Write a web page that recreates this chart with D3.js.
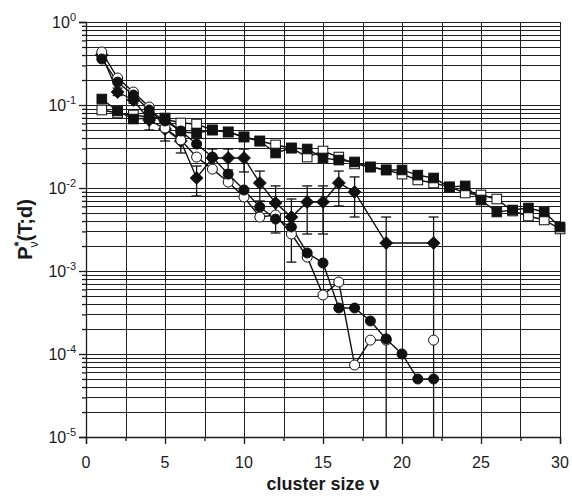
<!DOCTYPE html>
<html>
<head>
<meta charset="utf-8">
<script src="https://cdn.jsdelivr.net/npm/d3@7"></script>
<style>
  body { margin: 0; background: #fff; }
  text { font-family: "Liberation Sans", Arial, sans-serif; fill: #1a1a1a; }
</style>
</head>
<body>
<script>
// cluster sizes on the x axis
var sizes = [1,2,3,4,5,6,7,8,9,10,11,12,13,14,15,16,17,18,19,20,21,22,23,24,25,26,27,28,29,30];

// filled squares, v = 1..30
var filledSquares = [0.118,0.0847,0.0678,0.0697,0.0697,0.0473,0.0460,0.0500,0.0473,0.0412,
                     0.0368,0.0264,0.0303,0.0295,0.0230,0.0217,0.0206,0.0179,0.0165,0.0165,
                     0.0143,0.0132,0.0103,0.0106,0.00717,0.00514,0.00543,0.00574,0.00514,0.00339];
// open squares, v = 1..30
var openSquares = [0.0871,0.0801,0.0758,0.0717,0.0678,0.0607,0.0590,0.0500,0.0473,0.0412,
                   0.0368,0.0330,0.0303,0.0236,0.0279,0.0236,0.0195,0.0179,0.0165,0.0147,
                   0.0125,0.0115,0.0103,0.00871,0.00824,0.00737,0.00528,0.00460,0.00412,0.00321];
// filled circles, v = 1..22
var filledCircles = [0.358,0.189,0.132,0.0871,0.0642,0.0486,0.0339,0.0236,0.0147,0.00946,
                     0.00590,0.00423,0.00339,0.00165,0.00125,0.000358,0.000358,0.000250,0.000152,0.000100,
                     0.0000500,0.0000500];
// open circles, v = 1..22 (null = no point)
var openCircles = [0.435,0.2115,0.1434,0.0946,0.0528,0.0379,0.0236,0.0169,0.0118,0.00779,
                   0.00447,0.00473,0.00279,0.00147,0.000514,0.000737,0.0000737,0.000147,0.000147,null,
                   null,0.000147];
// filled diamonds with error bars
var diamondSizes = [1,2,3,4,5,6,7,8,9,10,11,12,13,14,15,16,17,19,22];
var diamonds   = [0.400,0.1434,0.115,0.0660,0.0514,0.0368,0.0132,0.0230,0.0230,0.0230,
                  0.0115,0.00660,0.00447,0.00678,0.00678,0.0115,0.00895,0.00217,0.00217];
var diamondHi  = [0.42,0.16,0.125,0.0801,0.0678,0.0486,0.0184,0.0295,0.0295,0.0295,
                  0.0160,0.0106,0.00737,0.0106,0.0106,0.0160,0.0136,0.00447,0.00447];
var diamondLo  = [0.38,0.13,0.105,0.0500,0.0368,0.0264,0.00801,0.0165,0.0165,0.0156,
                  0.00697,0.00287,0.00128,0.00279,0.00279,0.00607,0.00447,0.00001,0.00001];

var xTicks = [0,5,10,15,20,25,30];
var xMinorTicks = [2.5,7.5,12.5,17.5,22.5,27.5];
var yExponents = [0,-1,-2,-3,-4,-5];

var width = 572, height = 496;
var margin = {top: 22, right: 12, bottom: 59, left: 86};

var svg = d3.select("body").append("svg")
    .attr("width", width)
    .attr("height", height);

var x = d3.scaleLinear().domain([0, 30]).range([margin.left, width - margin.right]);
var y = d3.scaleLog().domain([1e-5, 1]).range([height - margin.bottom, margin.top]);

// minor log values 2..9 x 10^k
var yMinor = [];
yExponents.slice(1).forEach(function(k){
  for (var m = 2; m <= 9; m++) yMinor.push(m * Math.pow(10, k));
});
var yMajor = yExponents.map(function(k){ return Math.pow(10, k); });

// grid
var grid = svg.append("g").attr("class", "grid")
    .attr("stroke", "#1e1e1e").attr("stroke-width", 1);
grid.selectAll(".gx")
  .data(xTicks.concat(xMinorTicks))
  .enter().append("line")
    .attr("x1", function(d){ return Math.round(x(d)) + 0.5; })
    .attr("x2", function(d){ return Math.round(x(d)) + 0.5; })
    .attr("y1", y(1)).attr("y2", y(1e-5));
grid.selectAll(".gy")
  .data(yMajor.concat(yMinor))
  .enter().append("line")
    .attr("y1", function(d){ return Math.round(y(d)) + 0.5; })
    .attr("y2", function(d){ return Math.round(y(d)) + 0.5; })
    .attr("x1", x(0)).attr("x2", x(30));

// axes
svg.append("g")
    .attr("transform", "translate(" + x(0) + ",0)")
    .call(d3.axisLeft(y).tickValues(yMajor).tickSize(7).tickFormat(""));
svg.append("g")
    .attr("transform", "translate(" + x(0) + ",0)")
    .call(d3.axisLeft(y).tickValues(yMinor).tickSize(4).tickFormat(""))
    .select(".domain").remove();
svg.append("g")
    .attr("transform", "translate(0," + y(1e-5) + ")")
    .call(d3.axisBottom(x).tickValues(xTicks).tickSize(7).tickFormat(""));
svg.append("g")
    .attr("transform", "translate(0," + y(1e-5) + ")")
    .call(d3.axisBottom(x).tickValues(xMinorTicks).tickSize(4).tickFormat(""))
    .select(".domain").remove();
svg.selectAll(".domain, .tick line").attr("stroke", "#1a1a1a").attr("stroke-width", 1.3);

// y tick labels 10^k
var ylab = svg.append("g").selectAll("text")
  .data(yExponents)
  .enter().append("text")
    .attr("x", 76)
    .attr("y", function(d){ return y(Math.pow(10, d)) + 6; })
    .attr("text-anchor", "end")
    .attr("font-size", 16);
ylab.append("tspan").text("10");
ylab.append("tspan").attr("dy", -7).attr("font-size", 11).text(function(d){ return d; });

// x tick labels
svg.append("g").selectAll("text")
  .data(xTicks)
  .enter().append("text")
    .attr("x", function(d){ return x(d); })
    .attr("y", y(1e-5) + 31)
    .attr("text-anchor", "middle")
    .attr("font-size", 16)
    .text(function(d){ return d; });

// axis titles
svg.append("text")
    .attr("x", (x(0) + x(30)) / 2)
    .attr("y", 490)
    .attr("text-anchor", "middle")
    .attr("font-size", 18)
    .attr("font-weight", "bold")
    .text("cluster size ν");

var yt = svg.append("text")
    .attr("transform", "translate(32," + ((y(1) + y(1e-5)) / 2) + ") rotate(-90)")
    .attr("text-anchor", "middle")
    .attr("font-size", 20)
    .attr("font-weight", "bold");
yt.append("tspan").text("P");
yt.append("tspan").attr("dy", -9).attr("font-size", 13).text("*");
yt.append("tspan").attr("dy", 15).attr("dx", -6).attr("font-size", 12).attr("font-weight", "normal").text("ν");
yt.append("tspan").attr("dy", -6).text("(T;d)");

// series helpers
var line = d3.line()
    .defined(function(d){ return d[1] != null; })
    .x(function(d){ return x(d[0]); })
    .y(function(d){ return y(d[1]); });

function pairs(xs, ys){ return xs.slice(0, ys.length).map(function(v, i){ return [v, ys[i]]; }); }

var plot = svg.append("g");

function drawLine(data){
  plot.append("path")
    .datum(data)
    .attr("fill", "none")
    .attr("stroke", "#111")
    .attr("stroke-width", 1.4)
    .attr("d", line);
}

function drawSquares(data, fill){
  plot.append("g").selectAll("rect")
    .data(data.filter(function(d){ return d[1] != null; }))
    .enter().append("rect")
      .attr("x", function(d){ return x(d[0]) - 4.8; })
      .attr("y", function(d){ return y(d[1]) - 4.8; })
      .attr("width", 9.6).attr("height", 9.6)
      .attr("fill", fill).attr("stroke", "#111").attr("stroke-width", 1);
}

function drawCircles(data, fill){
  plot.append("g").selectAll("circle")
    .data(data.filter(function(d){ return d[1] != null; }))
    .enter().append("circle")
      .attr("cx", function(d){ return x(d[0]); })
      .attr("cy", function(d){ return y(d[1]); })
      .attr("r", 5)
      .attr("fill", fill).attr("stroke", "#111").attr("stroke-width", 1);
}

// squares
var sqF = pairs(sizes, filledSquares), sqO = pairs(sizes, openSquares);
drawLine(sqF); drawLine(sqO);
drawSquares(sqO, "#fff");
drawSquares(sqF, "#111");

// diamonds with error bars
var dia = diamondSizes.map(function(v, i){ return {v: v, p: diamonds[i], hi: diamondHi[i], lo: diamondLo[i]}; });
var eb = plot.append("g").attr("stroke", "#111").attr("stroke-width", 1.3);
eb.selectAll(".ev").data(dia).enter().append("line")
    .attr("x1", function(d){ return x(d.v); }).attr("x2", function(d){ return x(d.v); })
    .attr("y1", function(d){ return y(d.hi); }).attr("y2", function(d){ return y(d.lo); });
eb.selectAll(".ct").data(dia).enter().append("line")
    .attr("x1", function(d){ return x(d.v) - 5; }).attr("x2", function(d){ return x(d.v) + 5; })
    .attr("y1", function(d){ return y(d.hi); }).attr("y2", function(d){ return y(d.hi); });
eb.selectAll(".cb").data(dia.filter(function(d){ return d.lo > 1e-5; })).enter().append("line")
    .attr("x1", function(d){ return x(d.v) - 5; }).attr("x2", function(d){ return x(d.v) + 5; })
    .attr("y1", function(d){ return y(d.lo); }).attr("y2", function(d){ return y(d.lo); });
drawLine(dia.map(function(d){ return [d.v, d.p]; }));
plot.append("g").selectAll("path")
  .data(dia)
  .enter().append("path")
    .attr("transform", function(d){ return "translate(" + x(d.v) + "," + y(d.p) + ")"; })
    .attr("d", "M0,-6.5L6.5,0L0,6.5L-6.5,0Z")
    .attr("fill", "#111").attr("stroke", "#111").attr("stroke-width", 0.8);

// circles
var ciO = pairs(sizes, openCircles), ciF = pairs(sizes, filledCircles);
drawLine(ciO); drawLine(ciF);
drawCircles(ciO, "#fff");
drawCircles(ciF, "#111");
</script>
</body>
</html>
